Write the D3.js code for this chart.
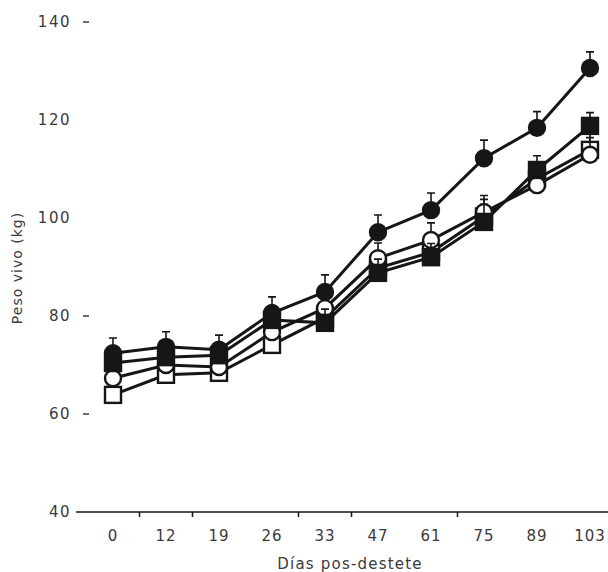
<!DOCTYPE html>
<html>
<head>
<meta charset="utf-8">
<script src="https://cdn.jsdelivr.net/npm/d3@7"></script>
<style>
  body { margin: 0; background: #fff; }
</style>
</head>
<body>
<div id="chart"></div>
<script>
const days = ['0', '12', '19', '26', '33', '47', '61', '75', '89', '103'];
const yTicks = [40, 60, 80, 100, 120, 140];
// only these labels carry a dash in the original
const yDashTicks = [60, 80, 140];
// small ticks sit halfway after these days
const minorTickAfter = ['0', '12', '26', '33', '61'];

const filledCircle    = [72.4, 73.7, 73.1, 80.6, 84.9, 97.1, 101.6, 112.2, 118.4, 130.6];
const filledCircleErr = [3.1, 3.1, 3.0, 3.3, 3.5, 3.5, 3.5, 3.7, 3.3, 3.3];
const filledSquare    = [70.4, 71.6, 72.0, 79.2, 78.6, 88.8, 92.0, 99.2, 109.8, 118.8];
const filledSquareErr = [2.5, 2.5, 2.5, 2.7, 2.8, 2.8, 2.8, 3.6, 2.9, 2.7];
const openCircle      = [67.3, 70.0, 69.6, 76.7, 81.6, 91.8, 95.5, 101.2, 106.7, 112.9];
const openCircleErr   = [2.5, 2.5, 2.5, 2.8, 3.0, 3.1, 3.5, 3.4, 3.2, 3.5];
const openSquare      = [63.9, 68.0, 68.4, 74.1, 79.6, 89.8, 93.0, 100.3, 108.0, 113.9];
const openSquareErr   = [2.3, 2.4, 2.4, 2.6, 2.8, 3.0, 3.0, 3.5, 3.2, 3.2];

const width = 608, height = 572;

const svg = d3.select('#chart').append('svg')
    .attr('width', width)
    .attr('height', height);

const x = d3.scalePoint().domain(days).range([113, 590]);
const y = d3.scaleLinear().domain([40, 140]).range([512, 22]);

const textColor = '#3a3a3a';
const ink = '#161616';

// x axis line
svg.append('line')
    .attr('x1', 76).attr('x2', width)
    .attr('y1', y(40)).attr('y2', y(40))
    .attr('stroke', ink).attr('stroke-width', 1.5);

// small ticks under the axis
svg.append('g')
  .selectAll('line')
  .data(minorTickAfter)
  .enter().append('line')
    .attr('x1', d => x(d) + x.step() / 2)
    .attr('x2', d => x(d) + x.step() / 2)
    .attr('y1', y(40))
    .attr('y2', y(40) + 5)
    .attr('stroke', ink)
    .attr('stroke-width', 1.5);

// x labels
svg.append('g')
  .selectAll('text')
  .data(days)
  .enter().append('text')
    .attr('x', d => x(d))
    .attr('y', 541)
    .attr('text-anchor', 'middle')
    .attr('font-family', 'DejaVu Sans')
    .attr('font-size', 15)
    .attr('letter-spacing', 1)
    .attr('fill', textColor)
    .text(d => d);

svg.append('text')
    .attr('x', 350)
    .attr('y', 569)
    .attr('text-anchor', 'middle')
    .attr('font-family', 'DejaVu Sans')
    .attr('font-size', 15)
    .attr('letter-spacing', 1.2)
    .attr('fill', textColor)
    .text('Días pos-destete');

// y labels and dash ticks
const yAxis = svg.append('g');
yAxis.selectAll('text')
  .data(yTicks)
  .enter().append('text')
    .attr('x', 71)
    .attr('y', d => y(d))
    .attr('dy', '0.36em')
    .attr('text-anchor', 'end')
    .attr('font-family', 'DejaVu Sans')
    .attr('font-size', 15)
    .attr('letter-spacing', 1.5)
    .attr('fill', textColor)
    .text(d => d);

yAxis.selectAll('line')
  .data(yDashTicks)
  .enter().append('line')
    .attr('x1', 83).attr('x2', 89)
    .attr('y1', d => y(d)).attr('y2', d => y(d))
    .attr('stroke', textColor)
    .attr('stroke-width', 1.5);

svg.append('text')
    .attr('transform', 'translate(22,268) rotate(-90)')
    .attr('text-anchor', 'middle')
    .attr('font-family', 'DejaVu Sans')
    .attr('font-size', 14)
    .attr('letter-spacing', 1)
    .attr('fill', textColor)
    .text('Peso vivo (kg)');

// series, drawn bottom first
const series = [
  { key: 'openSquare',   shape: 'square', fill: '#fff', values: openSquare,   err: openSquareErr },
  { key: 'openCircle',   shape: 'circle', fill: '#fff', values: openCircle,   err: openCircleErr },
  { key: 'filledSquare', shape: 'square', fill: ink,    values: filledSquare, err: filledSquareErr },
  { key: 'filledCircle', shape: 'circle', fill: ink,    values: filledCircle, err: filledCircleErr }
];

const line = d3.line()
    .x((d, i) => x(days[i]))
    .y(d => y(d));

svg.append('g')
  .selectAll('path')
  .data(series)
  .enter().append('path')
    .attr('d', d => line(d.values))
    .attr('fill', 'none')
    .attr('stroke', ink)
    .attr('stroke-width', 3);

const markerR = 8;
const capW = 4;

series.forEach(s => {
  const pts = s.values.map((v, i) => ({ day: days[i], v: v, e: s.err[i] }));
  const g = svg.append('g');

  // error bars (upper half)
  g.selectAll('.err')
    .data(pts)
    .enter().append('path')
      .attr('d', d => {
        const cx = x(d.day), top = y(d.v + d.e);
        return 'M' + cx + ',' + y(d.v) + 'V' + top + 'M' + (cx - capW) + ',' + top + 'H' + (cx + capW);
      })
      .attr('fill', 'none')
      .attr('stroke', ink)
      .attr('stroke-width', 1.6);

  if (s.shape === 'circle') {
    g.selectAll('circle')
      .data(pts)
      .enter().append('circle')
        .attr('cx', d => x(d.day))
        .attr('cy', d => y(d.v))
        .attr('r', markerR)
        .attr('fill', s.fill)
        .attr('stroke', ink)
        .attr('stroke-width', 2.4);
  } else {
    g.selectAll('rect')
      .data(pts)
      .enter().append('rect')
        .attr('x', d => x(d.day) - markerR)
        .attr('y', d => y(d.v) - markerR)
        .attr('width', markerR * 2)
        .attr('height', markerR * 2)
        .attr('fill', s.fill)
        .attr('stroke', ink)
        .attr('stroke-width', 2.4);
  }
});
</script>
</body>
</html>
